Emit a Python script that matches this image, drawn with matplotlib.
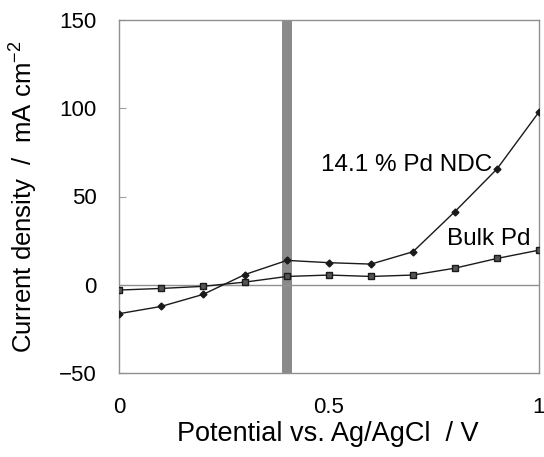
import matplotlib.pyplot as plt

plt.rcParams['font.family'] = ['Liberation Sans', 'DejaVu Sans']

potential = [0.0, 0.1, 0.2, 0.3, 0.4, 0.5, 0.6, 0.7, 0.8, 0.9, 1.0]
ndc = [-16.4, -12.3, -5.5, 5.8, 13.8, 12.5, 11.7, 18.7, 41.5, 65.6, 97.9]
bulk = [-3.0, -2.1, -0.9, 1.5, 4.7, 5.5, 4.7, 5.5, 9.4, 14.9, 19.6]

fig = plt.figure(figsize=(5.44, 4.57), dpi=100)
ax = fig.add_axes([119 / 544, 1 - 373 / 457, 420 / 544, 353 / 457])

# gray band at 0.4 V
ax.axvspan(0.387, 0.413, color='#8a8a8a', lw=0, zorder=1)
ax.axhline(0, color='#909090', lw=1.0, zorder=2)

ax.plot(potential, ndc, color='#1a1a1a', lw=1.0, marker='D', ms=3.5,
        mfc='#1a1a1a', mec='#1a1a1a', zorder=3)
ax.plot(potential, bulk, color='#1a1a1a', lw=1.0, marker='s', ms=4.5,
        mfc='#555555', mec='#1a1a1a', zorder=3)

ax.text(0.482, 68, '14.1 % Pd NDC', fontsize=17.5, va='center', ha='left')
ax.text(0.78, 26, 'Bulk Pd', fontsize=17.5, va='center', ha='left')

ax.set_xlim(0, 1)
ax.set_ylim(-50, 150)
ax.set_xticks([0, 0.5, 1])
ax.set_xticklabels(['0', '0.5', '1'])
ax.set_yticks([-50, 0, 50, 100, 150])
ax.set_yticklabels(['\u221250', '0', '50', '100', '150'])
ax.tick_params(axis='both', labelsize=16)
ax.tick_params(axis='x', length=0, pad=17)
ax.tick_params(axis='y', direction='in', length=5, color='#a0a0a0', pad=16)
for s in ax.spines.values():
    s.set_color('#909090')
    s.set_linewidth(1.0)

ax.set_xlabel('Potential vs. Ag/AgCl  / V', fontsize=19.5)
ax.xaxis.set_label_coords(0.497, -0.135)
ax.set_ylabel('Current density  /  mA cm$^{\\mathregular{-2}}$', fontsize=18.5)
ax.yaxis.set_label_coords(-0.19, 0.5)

fig.savefig('out.png', dpi=100)
